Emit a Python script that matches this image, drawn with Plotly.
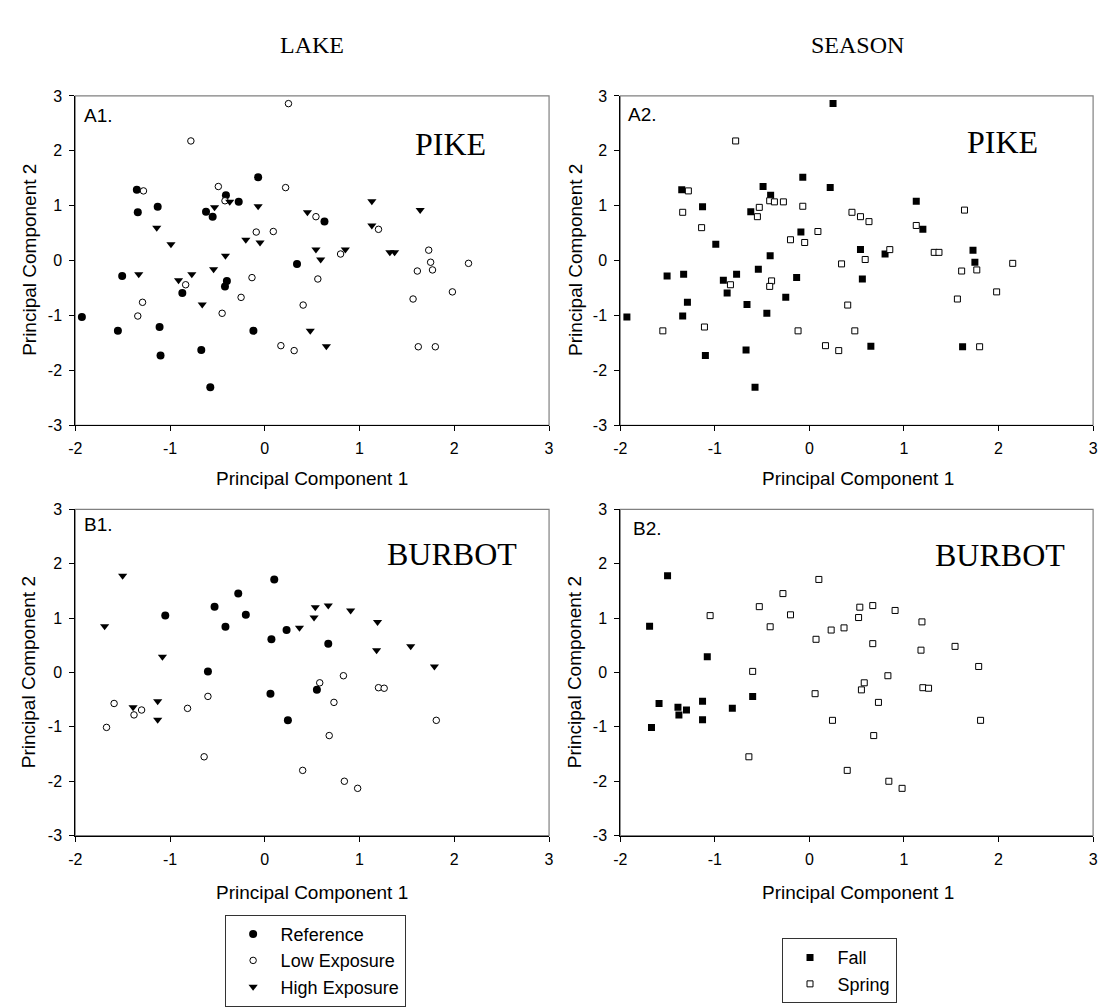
import plotly.graph_objects as go

W, H = 1107, 1007

# ---------------- DATA ----------------
x_ticks = [-2, -1, 0, 1, 2, 3]
x_tick_text = ["-2", "-1", "0", "1", "2", "3"]
y_ticks = [-3, -2, -1, 0, 1, 2, 3]
y_tick_text = ["-3", "-2", "-1", "0", "1", "2", "3"]
lake_names = ["Reference", "Low Exposure", "High Exposure"]
season_names = ["Fall", "Spring"]

# PIKE - Reference
pike_ref_x = [-1.93, -1.55, -1.505, -1.35, -1.34, -1.13, -1.11, -1.10, -0.87, -0.67, -0.62,
              -0.575, -0.55, -0.41, -0.40, -0.42, -0.275, -0.12, -0.07, 0.34, 0.63]
pike_ref_y = [-1.03, -1.28, -0.28, 1.29, 0.88, 0.98, -1.21, -1.73, -0.59, -1.63, 0.89,
              -2.31, 0.80, 1.19, -0.37, -0.47, 1.07, -1.28, 1.52, -0.06, 0.71]
pike_ref_season = ["F", "S", "F", "F", "S", "F", "S", "F", "F", "F", "F",
                   "F", "S", "F", "S", "S", "S", "S", "F", "S", "S"]
# PIKE - Low Exposure
pike_low_x = [0.25, -0.78, -1.28, -0.49, -0.42, 0.22, 0.54, -0.09, 0.09, -0.135, 0.56,
              -0.835, -1.29, -1.34, -0.25, -0.45, 0.405, 0.17, 0.31, 1.20, 0.80, 1.73,
              1.75, 1.77, 1.61, 2.15, 1.98, 1.565, 1.62, 1.80]
pike_low_y = [2.86, 2.18, 1.27, 1.35, 1.09, 1.33, 0.80, 0.52, 0.53, -0.31, -0.335,
              -0.44, -0.76, -1.01, -0.67, -0.96, -0.81, -1.55, -1.64, 0.57, 0.12, 0.19,
              -0.03, -0.17, -0.19, -0.05, -0.57, -0.70, -1.57, -1.57]
pike_low_season = ["F", "S", "S", "F", "S", "F", "S", "F", "S", "F", "F",
                   "S", "F", "F", "F", "F", "S", "S", "S", "F", "F", "F",
                   "F", "S", "S", "S", "S", "S", "F", "S"]
# PIKE - High Exposure
pike_high_x = [-1.14, -0.99, -1.33, -0.91, -0.77, -0.66, -0.54, -0.53, -0.37, -0.415, -0.20,
               -0.07, -0.05, 0.45, 0.54, 0.59, 0.48, 0.85, 1.13, 1.13, 1.32, 1.37, 1.64, 0.65]
pike_high_y = [0.60, 0.30, -0.25, -0.36, -0.25, -0.80, -0.16, 0.97, 1.07, 0.09, 0.38,
               0.99, 0.33, 0.88, 0.20, 0.02, -1.28, 0.20, 1.08, 0.64, 0.15, 0.15, 0.92, -1.56]
pike_high_season = ["S", "F", "F", "F", "F", "F", "F", "S", "S", "F", "S",
                    "S", "S", "S", "F", "S", "S", "S", "F", "S", "S", "S", "S", "F"]

# BURBOT - Reference
burbot_ref_x = [-1.05, -0.53, -0.415, -0.28, -0.20, 0.10, 0.07, 0.23, -0.60, 0.06, 0.244, 0.55, 0.67]
burbot_ref_y = [1.045, 1.21, 0.84, 1.45, 1.06, 1.71, 0.61, 0.78, 0.02, -0.39, -0.88, -0.32, 0.53]
burbot_ref_season = ["S"] * 13
# BURBOT - Low Exposure
burbot_low_x = [-1.59, -1.67, -1.38, -1.30, -0.815, -0.60, -0.64, 0.40, 0.58, 0.83, 0.73,
                0.68, 1.20, 1.26, 1.81, 0.84, 0.98]
burbot_low_y = [-0.57, -1.01, -0.78, -0.69, -0.66, -0.44, -1.55, -1.80, -0.19, -0.06, -0.55,
                -1.16, -0.28, -0.29, -0.88, -2.00, -2.13]
burbot_low_season = ["F", "F", "F", "F", "F", "F", "S", "S", "S", "S", "S",
                     "S", "S", "S", "S", "S", "S"]
# BURBOT - High Exposure
burbot_high_x = [-1.50, -1.69, -1.08, -1.39, -1.13, -1.13, 0.366, 0.533, 0.52, 0.67, 0.906,
                 1.19, 1.18, 1.54, 1.79]
burbot_high_y = [1.78, 0.85, 0.29, -0.64, -0.53, -0.87, 0.82, 1.20, 1.01, 1.23, 1.14,
                 0.93, 0.41, 0.48, 0.11]
burbot_high_season = ["F", "F", "F", "F", "F", "F", "S", "S", "S", "S", "S",
                      "S", "S", "S", "S"]

# ---------------- STYLE ----------------
SANS = "Arial, Liberation Sans, sans-serif"
SERIF = "Times New Roman, Liberation Serif, serif"

lake_marker = {
    "Reference": dict(symbol="circle", size=8, color="black", line=dict(width=0)),
    "Low Exposure": dict(symbol="circle", size=6.5, color="white", line=dict(color="black", width=1)),
    "High Exposure": dict(symbol="triangle-down", size=8, color="black", line=dict(width=0)),
}
season_marker = {
    "Fall": dict(symbol="square", size=7, color="black", line=dict(width=0)),
    "Spring": dict(symbol="square", size=6, color="white", line=dict(color="black", width=1)),
}


def px(x):
    return x / W


def py(y):
    return 1 - y / H


fig = go.Figure()

species = {
    "pike": {
        "Reference": (pike_ref_x, pike_ref_y, pike_ref_season),
        "Low Exposure": (pike_low_x, pike_low_y, pike_low_season),
        "High Exposure": (pike_high_x, pike_high_y, pike_high_season),
    },
    "burbot": {
        "Reference": (burbot_ref_x, burbot_ref_y, burbot_ref_season),
        "Low Exposure": (burbot_low_x, burbot_low_y, burbot_low_season),
        "High Exposure": (burbot_high_x, burbot_high_y, burbot_high_season),
    },
}

panels = [("pike", "x", "y", "x2", "y2", True), ("burbot", "x3", "y3", "x4", "y4", False)]

for sp, xa_l, ya_l, xa_s, ya_s, show in panels:
    groups = species[sp]
    # Lake panel
    for name in lake_names:
        gx, gy, _ = groups[name]
        fig.add_trace(go.Scatter(x=gx, y=gy, mode="markers", name=name,
                                 marker=lake_marker[name], xaxis=xa_l, yaxis=ya_l,
                                 showlegend=show, legend="legend", hoverinfo="x+y"))
    # Season panel
    for sname, code in zip(season_names, ["F", "S"]):
        sx, sy = [], []
        for name in lake_names:
            gx, gy, gs = groups[name]
            for a, b, c in zip(gx, gy, gs):
                if c == code:
                    sx.append(a)
                    sy.append(b)
        fig.add_trace(go.Scatter(x=sx, y=sy, mode="markers", name=sname,
                                 marker=season_marker[sname], xaxis=xa_s, yaxis=ya_s,
                                 showlegend=show, legend="legend2", hoverinfo="x+y"))

# ---------------- AXES ----------------
xd_left = [px(69), px(548)]
xd_right = [px(620), px(1098)]
yd_top = [py(427), py(90)]
yd_bot = [py(847), py(513)]

common = dict(showgrid=False, zeroline=False, showline=True, linecolor="black", linewidth=1,
              ticks="outside", ticklen=5, tickwidth=1, tickcolor="black",
              tickfont=dict(family=SANS, size=16, color="black"), ticklabelstandoff=4)

axdefs = {
    "xaxis": dict(domain=xd_left, anchor="y"),
    "yaxis": dict(domain=yd_top, anchor="x"),
    "xaxis2": dict(domain=xd_right, anchor="y2"),
    "yaxis2": dict(domain=yd_top, anchor="x2"),
    "xaxis3": dict(domain=xd_left, anchor="y3"),
    "yaxis3": dict(domain=yd_bot, anchor="x3"),
    "xaxis4": dict(domain=xd_right, anchor="y4"),
    "yaxis4": dict(domain=yd_bot, anchor="x4"),
}
layout_axes = {}
for k, v in axdefs.items():
    d = dict(common)
    d.update(v)
    if k.startswith("x"):
        d.update(range=[-2, 3], tickmode="array", tickvals=x_ticks, ticktext=x_tick_text)
    else:
        d.update(range=[-3, 3], tickmode="array", tickvals=y_ticks, ticktext=y_tick_text)
    layout_axes[k] = d

# gray frame (top / right borders)
shapes = []
for xr, yr in [("x", "y"), ("x2", "y2"), ("x3", "y3"), ("x4", "y4")]:
    shapes.append(dict(type="rect", xref=f"{xr} domain", yref=f"{yr} domain",
                       x0=0, x1=1, y0=0, y1=1, line=dict(color="#808080", width=1.2),
                       layer="below"))

# ---------------- ANNOTATIONS ----------------
ann = []


def text(x, y, s, size, family=SANS, angle=0, xanchor="center"):
    ann.append(dict(x=px(x), y=py(y), xref="paper", yref="paper", text=s, showarrow=False,
                    textangle=angle, xanchor=xanchor, yanchor="middle",
                    font=dict(family=family, size=size, color="black")))


text(308, 38, "LAKE", 24, SERIF)
text(860, 38, "SEASON", 24, SERIF)
for cx in (308, 860):
    text(cx, 481, "Principal Component 1", 19)
    text(cx, 905, "Principal Component 1", 19)
for cx in (22, 574):
    text(cx, 258, "Principal Component 2", 19, angle=-90)
    text(cx, 680, "Principal Component 2", 19, angle=-90)

text(76, 110, "A1.", 19, xanchor="left")
text(626, 109, "A2.", 19, xanchor="left")
text(76, 529, "B1.", 19, xanchor="left")
text(631, 533, "B2.", 19, xanchor="left")

text(448, 139, "PIKE", 32, SERIF)
text(1006, 137, "PIKE", 32, SERIF)
text(450, 559, "BURBOT", 32, SERIF)
text(1004, 560, "BURBOT", 32, SERIF)

fig.update_layout(
    width=W, height=H,
    margin=dict(l=0, r=0, t=0, b=0),
    paper_bgcolor="white", plot_bgcolor="white",
    shapes=shapes,
    annotations=ann,
    legend=dict(x=px(220), y=py(928), xanchor="left", yanchor="top",
                bordercolor="#333333", borderwidth=1, bgcolor="white",
                font=dict(family=SANS, size=18, color="black"), itemwidth=45,
                tracegroupgap=0),
    legend2=dict(x=px(783), y=py(952), xanchor="left", yanchor="top",
                 bordercolor="#333333", borderwidth=1, bgcolor="white",
                 font=dict(family=SANS, size=18, color="black"), itemwidth=45,
                 tracegroupgap=0),
    **layout_axes,
)

fig.write_html("out.html")
